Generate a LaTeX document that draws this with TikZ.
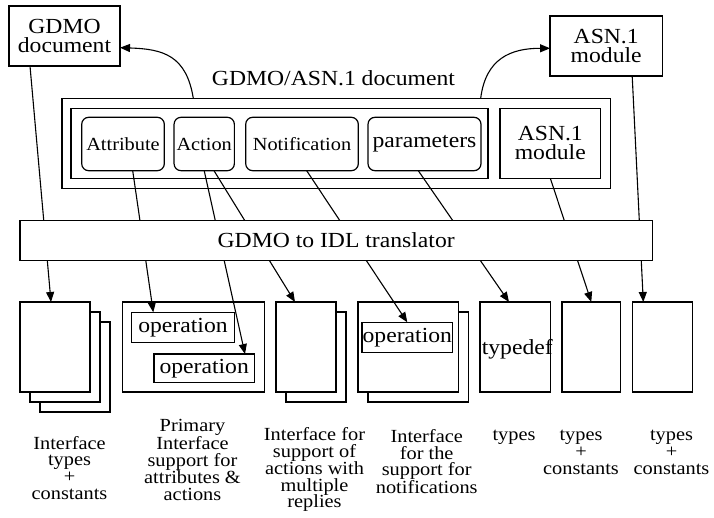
\documentclass[tikz,border=0pt]{standalone}
\usepackage{fontspec}
\setmainfont{Liberation Serif}[FakeStretch=1.1]
\usetikzlibrary{arrows.meta}
\newcommand\bigf{\fontsize{21.5}{19.3}\selectfont}
\newcommand\midf{\fontsize{18.5}{18}\selectfont}
\newcommand\labf{\fontsize{18.5}{16.8}\selectfont}
\begin{document}
\begin{tikzpicture}[x=1pt,y=-1pt,
  every node/.style={inner sep=0pt, outer sep=0pt},
  bx/.style={draw, line width=1.2pt, fill=white, align=center, font=\bigf},
  rbx/.style={draw, line width=1.2pt, rounded corners=7pt, align=center, font=\midf, minimum height=53.4pt},
  page/.style={draw, line width=1.2pt, fill=white, minimum height=90pt},
  lab/.style={align=center, anchor=north, font=\labf},
  conn/.style={line width=1.1pt, -{Triangle[length=10pt,width=8pt]}},
]
\useasboundingbox (0,0) rectangle (714,518);

% top boxes
\node[bx, minimum width=111pt, minimum height=60pt] (gd) at (64.5,36) {GDMO\\document};
\node[bx, minimum width=112.3pt, minimum height=60pt] (asnt) at (606.2,46) {ASN.1\\module};
\node[font=\bigf, anchor=base] (title) at (333.5,86) {GDMO/ASN.1 document};

% document container
\node[draw, line width=1.2pt, minimum width=548.7pt, minimum height=90pt] (outer) at (336.3,143.3) {};
\node[draw, line width=1.2pt, minimum width=417pt, minimum height=70pt] (inl) at (279.5,143.3) {};
\node[bx, minimum width=100.7pt, minimum height=70pt] (asni) at (550.3,143.3) {ASN.1\\module};
\node[rbx, minimum width=82.6pt] (attr) at (123,144) {Attribute};
\node[rbx, minimum width=60.3pt] (act) at (204.2,144) {Action};
\node[rbx, minimum width=112.6pt] (notif) at (302,144) {Notification};
\node[rbx, minimum width=113pt, font=\bigf] (par) at (424.5,144) {parameters};

% bottom documents
\node[page, minimum width=70pt] (s1c) at (75,367) {};
\node[page, minimum width=70pt] (s1b) at (65,357) {};
\node[page, minimum width=70pt] (s1a) at (55,347) {};
\node[page, minimum width=142pt] (s2) at (193.3,347) {};
\node[bx, minimum width=102.6pt, minimum height=30pt] (op1) at (183,327.3) {operation};
\node[bx, minimum width=100.3pt, minimum height=28.3pt] (op2) at (204.2,368.2) {operation};
\node[page, minimum width=60pt] (s3b) at (316,357) {};
\node[page, minimum width=60pt] (s3a) at (306,347) {};
\node[page, minimum width=100.7pt] (s4b) at (418.3,357) {};
\node[page, minimum width=100.7pt] (s4a) at (408.3,347) {};
\node[bx, minimum width=90.7pt, minimum height=30pt] (op4) at (407.3,337.3) {operation};
\node[page, minimum width=70.3pt] (tdef) at (515.2,347) {};
\node[font=\bigf] (tdeft) at (517.3,349) {typedef};
\node[page, minimum width=58.7pt] (s6) at (591.3,347) {};
\node[page, minimum width=60.4pt] (s7) at (662.5,347) {};

% connectors
\draw[conn] ([xshift=-34.5pt]gd.south) -- ([xshift=-4pt]s1a.north);
\draw[conn] ([xshift=9.7pt]attr.south) -- ([xshift=-29.7pt]op1.north);
\draw[conn] (act.south) -- ([xshift=40.8pt]op2.north);
\draw[conn] ([xshift=9.8pt]act.south) -- ([xshift=-11pt]s3a.north);
\draw[conn] ([xshift=4.7pt]notif.south) -- (op4.north);
\draw[conn] ([xshift=-6.2pt]par.south) -- ([xshift=-6.2pt]tdef.north);
\draw[conn] (asni.south) -- (s6.north);
\draw[conn] ([xshift=26pt]asnt.south) -- ([xshift=-19.2pt]s7.north);
\draw[conn] ([xshift=-143pt]outer.north) .. controls +(-7,-43) and +(43,1.3) .. ([yshift=-11.7pt]gd.east);
\draw[conn] ([xshift=144.4pt]outer.north) .. controls +(5,-40) and +(-39,0) .. ([yshift=-2.3pt]asnt.west);

% translator (drawn over the connectors)
\node[bx, minimum width=632.3pt, minimum height=39.6pt] (tr) at (336.2,240.5) {GDMO to IDL translator};

% labels
\node[lab] (l1) at (69.5,436) {Interface\\types\\+\\constants};
\node[lab] (l2) at (192.5,419.5) {Primary\\Interface\\support for\\attributes \&\\actions};
\node[lab] (l3) at (314.5,427.7) {Interface for\\support of\\actions with\\multiple\\replies};
\node[lab] (l4) at (426.7,429.3) {Interface\\for the\\support for\\notifications};
\node[lab] (l5) at (514,430.3) {types};
\node[lab] (l6) at (581,430.3) {types\\+\\constants};
\node[lab] (l7) at (671.5,430.3) {types\\+\\constants};
\end{tikzpicture}
\end{document}
